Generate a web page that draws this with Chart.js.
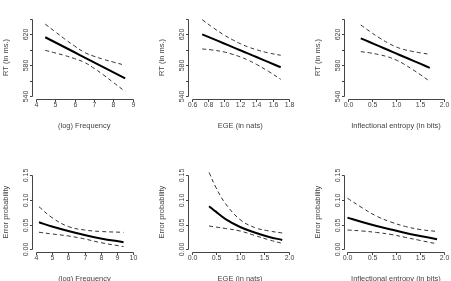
<!DOCTYPE html>
<html>
<head>
<meta charset="utf-8">
<script src="https://cdn.jsdelivr.net/npm/chart.js@4"></script>
<style>
  html, body { margin: 0; padding: 0; background: #fff; }
  #wrap { position: relative; width: 451px; height: 281px; overflow: hidden; }
  #wrap canvas { position: absolute; left: 0; top: 0; }
</style>
</head>
<body>
<div id="wrap"></div>
<script>
// ---- tick positions / labels ----
const rtTicks = [540, 560, 580, 600, 620, 640];
const rtTickLabels = ['540', '', '580', '', '620', ''];
const errTicks = [0, 0.05, 0.1, 0.15];
const errTickLabels = ['0.00', '0.05', '0.10', '0.15'];
const freqTicks = [4, 5, 6, 7, 8, 9];
const freqTicks2 = [4, 5, 6, 7, 8, 9, 10];
const egeTicks = [0.6, 0.8, 1.0, 1.2, 1.4, 1.6, 1.8];
const egeTicks2 = [0, 0.5, 1, 1.5, 2];
const entTicks = [0, 0.5, 1, 1.5, 2];

// ---- top row: RT ----
const freqX = [4.5, 5, 5.5, 6, 6.5, 7, 7.5, 8, 8.6];
const freqRT = [616.3, 609.8, 603.3, 596.8, 590.3, 583.8, 577.3, 570.7, 562.9];
const freqRTHi = [633.3, 623.6, 614, 605, 596.8, 591.6, 587.5, 584, 579.9];
const freqRTLo = [599.3, 596, 592.6, 588.6, 583.8, 576, 567.1, 557.4, 545.9];

const egeX = [0.73, 0.85, 1.0, 1.1, 1.2, 1.3, 1.4, 1.55, 1.7];
const egeRT = [620.1, 614.8, 608.2, 603.8, 599.4, 595, 590.6, 583.9, 577.3];
const egeRTHi = [639.1, 629.8, 619.2, 613.3, 608, 603.6, 600.1, 595.9, 592.9];
const egeRTLo = [601.1, 599.8, 597.2, 594.3, 590.8, 586.4, 581.1, 571.9, 561.7];

const entX = [0.27, 0.45, 0.65, 0.85, 1.0, 1.15, 1.35, 1.5, 1.7];
const entRT = [614.9, 610.1, 604.7, 599.4, 595.3, 591.3, 586, 582, 576.6];
const entRTHi = [632.2, 624.1, 615.7, 608.3, 603.8, 600.6, 597.8, 596.1, 594.1];
const entRTLo = [597.6, 596.1, 593.7, 590.5, 586.8, 582, 574.2, 567.9, 559.1];

// ---- bottom row: error probability ----
const freqErrX = [4.2, 5, 6, 7, 8, 9.4];
const freqErr = [0.0545, 0.046, 0.037, 0.029, 0.022, 0.0145];
const freqErrHi = [0.086, 0.064, 0.046, 0.039, 0.036, 0.0343];
const freqErrLo = [0.0345, 0.031, 0.027, 0.021, 0.0135, 0.0055];

const egeErrX = [0.36, 0.5, 0.7, 1.0, 1.3, 1.6, 1.87];
const egeErr = [0.087, 0.076, 0.061, 0.045, 0.034, 0.025, 0.019];
const egeErrHi = [0.155, 0.125, 0.092, 0.060, 0.044, 0.037, 0.033];
const egeErrLo = [0.047, 0.045, 0.042, 0.037, 0.028, 0.019, 0.012];

const entErrX = [0, 0.3, 0.6, 0.9, 1.2, 1.5, 1.85];
const entErr = [0.064, 0.055, 0.047, 0.040, 0.033, 0.027, 0.0205];
const entErrHi = [0.103, 0.084, 0.067, 0.055, 0.046, 0.040, 0.036];
const entErrLo = [0.039, 0.037, 0.034, 0.030, 0.024, 0.018, 0.011];

const W = 451, H = 281;
const FONT = '"Liberation Sans", Arial, Helvetica, sans-serif';
const INK = '#444';

const fmt1 = v => v.toFixed(1);

const panels = [
  { x: freqX, mid: freqRT, hi: freqRTHi, lo: freqRTLo, xt: freqTicks, xl: freqTicks.map(String),
    yt: rtTicks, yl: rtTickLabels, xTitle: '(log) Frequency', yTitle: 'RT (in ms.)',
    box: { l: 31.6, r: 136.9, t: 15.9, b: 99.1 } },
  { x: egeX, mid: egeRT, hi: egeRTHi, lo: egeRTLo, xt: egeTicks, xl: egeTicks.map(fmt1),
    yt: rtTicks, yl: rtTickLabels, xTitle: 'EGE (in nats)', yTitle: 'RT (in ms.)',
    box: { l: 187.8, r: 292.7, t: 15.9, b: 99.1 } },
  { x: entX, mid: entRT, hi: entRTHi, lo: entRTLo, xt: entTicks, xl: entTicks.map(fmt1),
    yt: rtTicks, yl: rtTickLabels, xTitle: 'Inflectional entropy (in bits)', yTitle: 'RT (in ms.)',
    box: { l: 343.9, r: 448.1, t: 15.9, b: 99.1 } },
  { x: freqErrX, mid: freqErr, hi: freqErrHi, lo: freqErrLo, xt: freqTicks2, xl: freqTicks2.map(String),
    yt: errTicks, yl: errTickLabels, xTitle: '(log) Frequency', yTitle: 'Error probability',
    box: { l: 31.8, r: 137.2, t: 172, b: 252.3 } },
  { x: egeErrX, mid: egeErr, hi: egeErrHi, lo: egeErrLo, xt: egeTicks2, xl: egeTicks2.map(fmt1),
    yt: errTicks, yl: errTickLabels, xTitle: 'EGE (in nats)', yTitle: 'Error probability',
    box: { l: 187.8, r: 292.4, t: 172, b: 252.3 } },
  { x: entErrX, mid: entErr, hi: entErrHi, lo: entErrLo, xt: entTicks, xl: entTicks.map(fmt1),
    yt: errTicks, yl: errTickLabels, xTitle: 'Inflectional entropy (in bits)', yTitle: 'Error probability',
    box: { l: 343.6, r: 448.2, t: 172, b: 252.3 } }
];

// R-style axes: lines only between first and last tick, rotated y labels
const rAxes = {
  id: 'rAxes',
  afterDraw(chart, args, opts) {
    const ctx = chart.ctx, a = chart.chartArea;
    const xs = chart.scales.x, ys = chart.scales.y;
    ctx.save();
    ctx.strokeStyle = INK;
    ctx.fillStyle = INK;
    ctx.lineWidth = 1;
    ctx.font = '7px ' + FONT;

    const yb = Math.round(a.bottom) + 0.5;
    const xa = opts.xt.map(v => Math.round(xs.getPixelForValue(v)) + 0.5);
    ctx.beginPath();
    ctx.moveTo(xa[0], yb);
    ctx.lineTo(xa[xa.length - 1], yb);
    xa.forEach(px => { ctx.moveTo(px, yb); ctx.lineTo(px, yb + 2.5); });
    ctx.stroke();
    ctx.textAlign = 'center';
    ctx.textBaseline = 'middle';
    xa.forEach((px, i) => ctx.fillText(opts.xl[i], px, yb + 5.5));

    const xl = Math.round(a.left) + 0.5;
    const ya = opts.yt.map(v => Math.round(ys.getPixelForValue(v)) + 0.5);
    ctx.beginPath();
    ctx.moveTo(xl, ya[0]);
    ctx.lineTo(xl, ya[ya.length - 1]);
    ya.forEach(py => { ctx.moveTo(xl, py); ctx.lineTo(xl - 2.5, py); });
    ctx.stroke();
    ya.forEach((py, i) => {
      if (!opts.yl[i]) return;
      ctx.save();
      ctx.translate(xl - 6, py);
      ctx.rotate(-Math.PI / 2);
      ctx.fillText(opts.yl[i], 0, 0);
      ctx.restore();
    });

    ctx.font = '7.5px ' + FONT;
    ctx.fillText(opts.xTitle, (a.left + a.right) / 2, a.bottom + 27);
    ctx.save();
    ctx.translate(a.left - 26, (a.top + a.bottom) / 2);
    ctx.rotate(-Math.PI / 2);
    ctx.fillText(opts.yTitle, 0, 0);
    ctx.restore();
    ctx.restore();
  }
};

const wrap = document.getElementById('wrap');

panels.forEach(p => {
  const cv = document.createElement('canvas');
  cv.width = W;
  cv.height = H;
  wrap.appendChild(cv);

  const pts = arr => p.x.map((x, i) => ({ x: x, y: arr[i] }));
  const xStep = p.xt[p.xt.length - 1] - p.xt[0];
  const yStep = p.yt[p.yt.length - 1] - p.yt[0];

  const dashed = {
    borderColor: '#333',
    borderWidth: 1,
    borderDash: [4, 3],
    pointRadius: 0,
    tension: 0.4
  };

  new Chart(cv.getContext('2d'), {
    type: 'line',
    data: {
      datasets: [
        Object.assign({ data: pts(p.hi) }, dashed),
        Object.assign({ data: pts(p.lo) }, dashed),
        {
          data: pts(p.mid),
          borderColor: '#000',
          borderWidth: 2,
          pointRadius: 0,
          tension: 0.4
        }
      ]
    },
    options: {
      responsive: false,
      animation: false,
      layout: {
        padding: { left: p.box.l, right: W - p.box.r, top: p.box.t, bottom: H - p.box.b }
      },
      scales: {
        x: {
          type: 'linear', display: false,
          min: p.xt[0] - 0.04 * xStep, max: p.xt[p.xt.length - 1] + 0.04 * xStep
        },
        y: {
          type: 'linear', display: false,
          min: p.yt[0] - 0.04 * yStep, max: p.yt[p.yt.length - 1] + 0.04 * yStep
        }
      },
      plugins: {
        legend: { display: false },
        tooltip: { enabled: false },
        rAxes: { xt: p.xt, xl: p.xl, yt: p.yt, yl: p.yl, xTitle: p.xTitle, yTitle: p.yTitle }
      }
    },
    plugins: [rAxes]
  });
});
</script>
</body>
</html>
